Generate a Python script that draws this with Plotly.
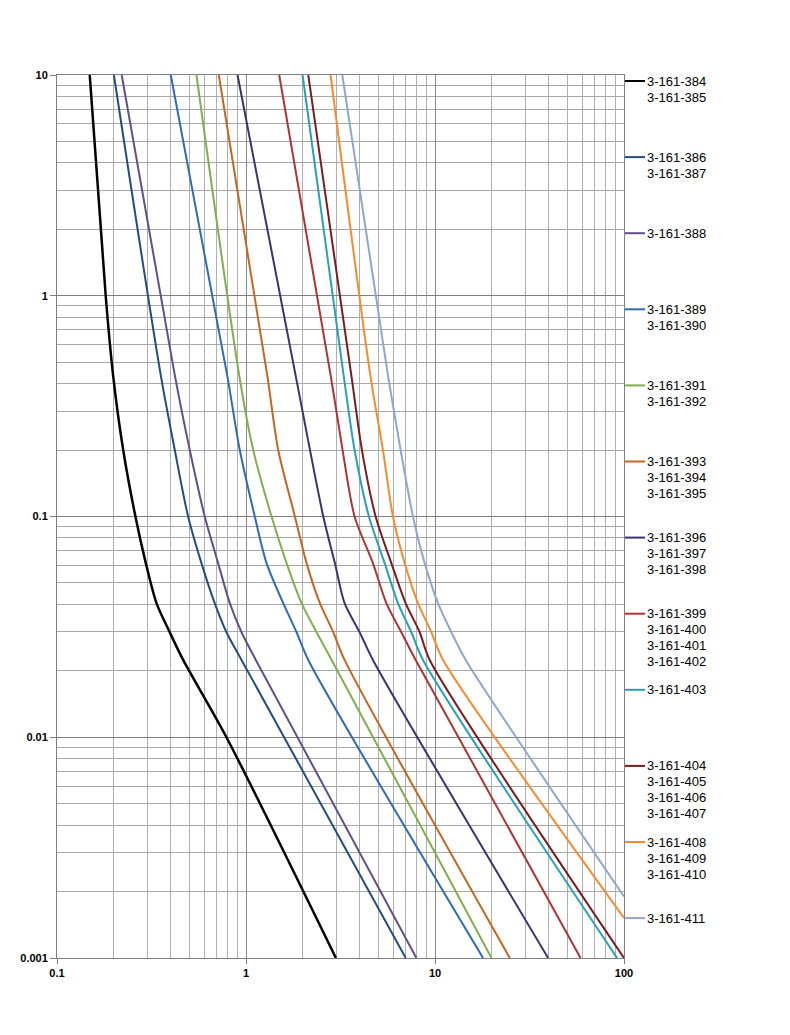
import plotly.graph_objects as go

# ---------------- data ----------------
y_std = [10, 0.437, 0.2, 0.1, 0.0615, 0.0405, 0.0299, 0.0224, 0.001]

x_384 = [0.149, 0.181, 0.198, 0.224, 0.26, 0.295, 0.336, 0.395, 0.465, 0.788, 2.99]
y_384 = [10, 1.0, 0.437, 0.2, 0.1, 0.0615, 0.0405, 0.0299, 0.0224, 0.01, 0.001]

x_386 = [0.2, 0.354, 0.42, 0.494, 0.581, 0.683, 0.788, 0.947, 7.0]
x_388 = [0.22, 0.42, 0.504, 0.605, 0.712, 0.821, 0.947, 1.127, 7.97]
x_389 = [0.40, 0.795, 0.927, 1.113, 1.284, 1.574, 1.852, 2.135, 17.96]
x_391 = [0.547, 0.920, 1.092, 1.365, 1.639, 1.968, 2.363, 2.838, 19.9]
x_393 = [0.718, 1.295, 1.481, 1.814, 2.091, 2.46, 2.897, 3.324, 24.87]

x_396 = [0.902, 1.829, 2.564, 2.953, 3.324, 3.993, 4.694, 39.67]
y_396 = [10, 0.437, 0.1, 0.0615, 0.0405, 0.0299, 0.0224, 0.001]

x_399 = [1.499, 2.803, 3.244, 3.755, 4.694, 5.528, 6.637, 7.9, 58.9]
x_403 = [1.992, 3.284, 3.755, 4.471, 5.415, 6.368, 7.499, 8.638, 92.0]
x_404 = [2.135, 3.607, 4.106, 4.852, 5.875, 6.99, 8.299, 9.373, 100]

x_408 = [2.803, 4.547, 5.304, 5.992, 6.911, 8.128, 9.57, 11.03, 100]
y_408 = [10, 0.437, 0.2, 0.1, 0.0615, 0.0405, 0.0299, 0.0224, 0.00152]
x_411 = [3.232, 5.636, 6.58, 7.646, 8.82, 10.37, 12.21, 14.54, 100]
y_411 = [10, 0.437, 0.2, 0.1, 0.0615, 0.0405, 0.0299, 0.0224, 0.0019]

legend_groups = [
    ["3-161-384", "3-161-385"],
    ["3-161-386", "3-161-387"],
    ["3-161-388"],
    ["3-161-389", "3-161-390"],
    ["3-161-391", "3-161-392"],
    ["3-161-393", "3-161-394", "3-161-395"],
    ["3-161-396", "3-161-397", "3-161-398"],
    ["3-161-399", "3-161-400", "3-161-401", "3-161-402"],
    ["3-161-403"],
    ["3-161-404", "3-161-405", "3-161-406", "3-161-407"],
    ["3-161-408", "3-161-409", "3-161-410"],
    ["3-161-411"],
]

x_tick_vals = [0.1, 1, 10, 100]
x_tick_text = ["0.1", "1", "10", "100"]
y_tick_vals = [0.001, 0.01, 0.1, 1, 10]
y_tick_text = ["0.001", "0.01", "0.1", "1", "10"]

series = [
    (x_384, y_384, "#000000", 2.5),
    (x_386, y_std, "#234e7c", 2),
    (x_388, y_std, "#634f8c", 2),
    (x_389, y_std, "#2e6db2", 2),
    (x_391, y_std, "#7fb04e", 2),
    (x_393, y_std, "#c4671f", 2),
    (x_396, y_396, "#3d3272", 2),
    (x_399, y_std, "#ad3535", 2),
    (x_403, y_std, "#2aa0b5", 2),
    (x_404, y_std, "#7a1d1f", 2),
    (x_408, y_408, "#f38c2f", 2),
    (x_411, y_411, "#8ea8cb", 2),
]

# ---------------- figure ----------------
W, H = 790, 1035
L, R, T, B = 57, 166, 75, 77
PW, PH = W - L - R, H - T - B

fig = go.Figure()
for xs, ys, col, wd in series:
    fig.add_trace(go.Scatter(x=xs, y=ys, mode="lines",
                             line=dict(color=col, width=wd, shape="spline", smoothing=0.8),
                             showlegend=False, hoverinfo="skip"))

def minor_vals(lo_exp, hi_exp):
    out = []
    for e in range(lo_exp, hi_exp):
        for m in range(2, 10):
            out.append(m * 10.0 ** e)
    return out

font_tick = dict(family="Arial, Liberation Sans", size=11, color="#000000", weight="bold")

fig.update_xaxes(type="log", range=[-1, 2],
                 tickmode="array", tickvals=x_tick_vals, ticktext=x_tick_text,
                 ticks="outside", ticklen=5, tickcolor="#808080",
                 showgrid=True, gridcolor="#8a8a8a", gridwidth=1,
                 showline=True, linecolor="#808080", linewidth=1, mirror=True,
                 minor=dict(tickmode="array", tickvals=minor_vals(-1, 2),
                            showgrid=True, gridcolor="#b0b0b0", gridwidth=1, ticks=""),
                 tickfont=font_tick, zeroline=False)
fig.update_yaxes(type="log", range=[-3, 1],
                 tickmode="array", tickvals=y_tick_vals, ticktext=y_tick_text,
                 ticks="outside", ticklen=6, tickcolor="#808080",
                 showgrid=True, gridcolor="#808080", gridwidth=1,
                 showline=True, linecolor="#808080", linewidth=1, mirror=True,
                 minor=dict(tickmode="array", tickvals=minor_vals(-3, 1),
                            showgrid=True, gridcolor="#a8a8a8", gridwidth=1, ticks=""),
                 tickfont=font_tick, zeroline=False)

# ---------------- custom legend ----------------
def pxx(px):
    return (px - L) / PW

def pyy(py):
    return (H - B - py) / PH

leg_top = 81
leg_step = 76.1
line_gap = 16
shapes = []
annotations = []
for i, grp in enumerate(legend_groups):
    yc = leg_top + i * leg_step
    shapes.append(dict(type="line", xref="paper", yref="paper",
                       x0=pxx(625), x1=pxx(645), y0=pyy(yc), y1=pyy(yc),
                       line=dict(color=series[i][2], width=2)))
    for j, lab in enumerate(grp):
        annotations.append(dict(text=lab, xref="paper", yref="paper",
                                x=pxx(645), y=pyy(yc + j * line_gap),
                                xanchor="left", yanchor="middle", showarrow=False,
                                font=dict(family="Arial, Liberation Sans", size=13, color="#000000")))

fig.update_layout(width=W, height=H,
                  margin=dict(l=L, r=R, t=T, b=B, pad=0),
                  paper_bgcolor="white", plot_bgcolor="white",
                  shapes=shapes, annotations=annotations, showlegend=False)

fig.write_html("out.html")
